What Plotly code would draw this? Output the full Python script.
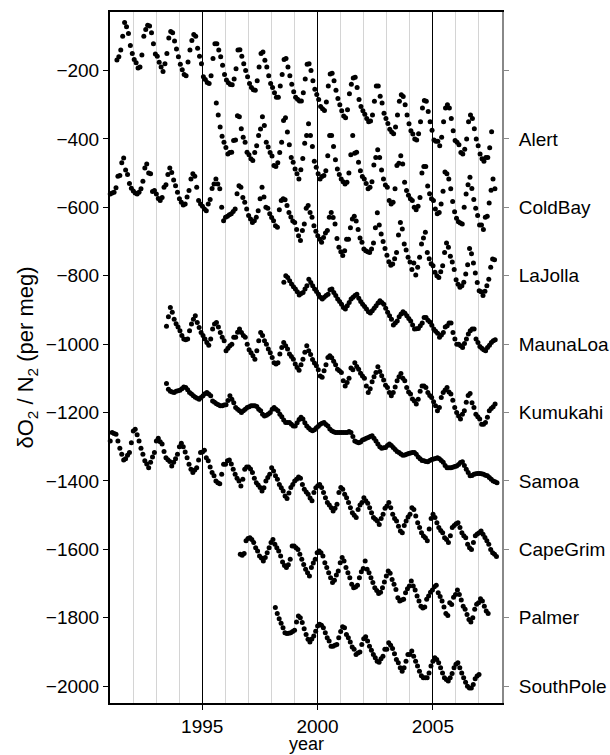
import plotly.graph_objects as go

# ---- data: monthly flask values (per meg), first sample time of each station ----
station_names = ["Alert", "ColdBay", "LaJolla", "MaunaLoa", "Kumukahi",
                 "Samoa", "CapeGrim", "Palmer", "SouthPole"]

alert_start = 1991.30
alert = [
    -169, -160, -140, -100, -60, -72, -92, -127, -150,
    -168, -177, -193, -190, -155, -100, -80, -68, -70, -90, -122, -152,
    -158, -176, -190, -203, -180, -150, -105, -86, -90, -114, -137, -160,
    -182, -198, -212, -215, -175, -140, -112, -95, -100, -135, -158, -180,
    -218, -226, -235, -238, -215, -165, -122, -122, -140, -160, -185, -212,
    -228, -236, -241, -242, -225, -195, -140, -139, -158, -180, -200, -218,
    -238, -250, -256, -258, -230, -190, -150, -146, -170, -190, -215, -238,
    -250, -265, -278, -278, -245, -212, -168, -165, -190, -215, -240, -262,
    -278, -284, -289, -289, -265, -225, -182, -180, -200, -230, -255, -270,
    -285, -305, -312, -317, -292, -245, -210, -208, -230, -258, -282, -300,
    -318, -333, -338, -315, -268, -240, -222, -220, -250, -285, -305, -318,
    -328, -340, -350, -348, -330, -290, -245, -245, -275, -295, -325, -340,
    -355, -372, -380, -385, -365, -330, -290, -271, -276, -300, -330, -356,
    -376, -386, -400, -403, -385, -350, -310, -288, -290, -320, -350, -375,
    -403, -407, -407, -420, -395, -350, -310, -300, -310, -340, -376, -405,
    -410, -417, -440, -444, -430, -400, -350, -330, -340, -370, -400, -420,
    -444, -458, -465, -454, -454, -426, -379,
]

coldbay_start = 1995.61
coldbay = [
    -295, -330, -365, -392, -410,
    -425, -444, -440, -439, -405, -403, -332, -335, -370, -395, -410, -439,
    -446, -458, -463, -440, -420, -390, -371, -335, -361, -410, -424, -440,
    -450, -478, -481, -470, -440, -410, -346, -338, -380, -417, -454, -468,
    -488, -502, -517, -490, -457, -413, -390, -356, -390, -422, -465, -483,
    -502, -517, -510, -507, -493, -449, -390, -390, -422, -461, -488, -504,
    -517, -525, -532, -527, -500, -446, -390, -442, -439, -468, -493, -510,
    -517, -530, -546, -541, -525, -476, -454, -432, -454, -491, -517, -535,
    -541, -580, -590, -585, -546, -478, -471, -449, -473, -527, -551, -565,
    -575, -580, -600, -607, -597, -571, -500, -481, -481, -538, -560, -575,
    -580, -605, -619, -615, -590, -553, -497, -502, -517, -546, -583, -613,
    -632, -642, -646, -649, -600, -561, -534, -512, -545, -577, -603, -624,
    -652, -652, -665, -629, -626, -587, -550, -517, -546,
]

lajolla_start = 1991.01
lajolla = [
    -561, -558, -556, -543, -509, -507, -470, -456, -491, -504, -530, -544,
    -552, -558, -561, -556, -546, -524, -485, -473, -500, -502, -554, -551,
    -561, -574, -580, -571, -541, -534, -504, -485, -498, -520, -537, -556,
    -575, -585, -593, -590, -570, -551, -517, -502, -509, -541, -580, -590,
    -597, -605, -610, -590, -577, -545, -532, -517, -532, -546, -600, -639,
    -629, -626, -622, -619, -612, -605, -560, -537, -541, -571, -585, -605,
    -624, -634, -644, -639, -629, -610, -575, -541, -570, -600, -603, -619,
    -630, -639, -654, -658, -607, -580, -575, -578, -595, -615, -628, -640,
    -644, -665, -683, -697, -668, -649, -603, -595, -615, -629, -654, -670,
    -683, -693, -702, -688, -675, -668, -629, -615, -630, -649, -691, -717,
    -730, -741, -727, -693, -693, -660, -634, -626, -640, -665, -690, -702,
    -722, -727, -730, -732, -722, -704, -660, -616, -652, -678, -700, -720,
    -740, -759, -769, -766, -750, -732, -681, -644, -663, -707, -725, -746,
    -760, -782, -763, -798, -775, -746, -707, -690, -673, -732, -750, -765,
    -771, -790, -800, -805, -788, -771, -732, -704, -717, -743, -760, -782,
    -812, -825, -834, -829, -819, -795, -768, -720, -736, -763, -792, -820,
    -844, -847, -858, -845, -829, -810, -775, -751, -753,
]

maunaloa_start = 1998.54
maunaloa = [
    -819, -800, -805, -815, -824, -832,
    -839, -847, -856, -852, -849, -839, -829, -810, -820, -829, -839, -846,
    -854, -863, -868, -863, -858, -854, -841, -839, -849, -858, -868, -875,
    -883, -893, -897, -888, -878, -868, -863, -858, -854, -866, -875, -883,
    -890, -897, -905, -909, -902, -895, -888, -880, -873, -878, -883, -895,
    -907, -917, -927, -944, -938, -932, -920, -912, -905, -910, -917, -925,
    -932, -944, -956, -955, -954, -946, -938, -922, -922, -930, -935, -945,
    -956, -962, -968, -980, -973, -966, -950, -946, -938, -938, -966, -985,
    -1000, -1000, -1005, -1010, -998, -985, -970, -961, -956, -956, -985, -995,
    -1007, -1012, -1016, -1019, -1010, -1003, -995, -990, -987,
]

kumukahi_start = 1993.45
kumukahi = [
    -948, -920, -893, -907, -927, -940, -950,
    -961, -975, -985, -987, -985, -961, -941, -927, -917, -937, -951, -966,
    -975, -985, -995, -1003, -985, -956, -941, -937, -950, -966, -980, -990,
    -1019, -1012, -1005, -1000, -980, -980, -965, -956, -966, -975, -980, -1000,
    -1016, -1025, -1034, -1044, -1019, -990, -966, -975, -990, -1000, -1014, -1025,
    -1039, -1054, -1058, -1054, -1029, -1010, -995, -1005, -1014, -1029, -1036, -1044,
    -1058, -1068, -1076, -1060, -1044, -1024, -1005, -1019, -1030, -1045, -1055, -1063,
    -1075, -1093, -1097, -1078, -1060, -1039, -1034, -1040, -1050, -1060, -1073, -1078,
    -1083, -1107, -1122, -1112, -1100, -1070, -1075, -1054, -1065, -1073, -1085, -1093,
    -1100, -1122, -1141, -1130, -1110, -1095, -1083, -1066, -1080, -1092, -1105, -1120,
    -1127, -1141, -1151, -1141, -1125, -1107, -1095, -1086, -1100, -1107, -1127, -1140,
    -1146, -1160, -1166, -1175, -1161, -1138, -1122, -1122, -1127, -1141, -1150, -1156,
    -1168, -1180, -1195, -1185, -1156, -1141, -1134, -1127, -1140, -1146, -1164, -1185,
    -1200, -1210, -1219, -1205, -1195, -1170, -1150, -1144, -1171, -1185, -1205, -1212,
    -1219, -1234, -1234, -1229, -1214, -1195, -1188, -1183, -1175,
]

samoa_start = 1993.45
samoa = [
    -1115, -1132, -1138, -1140, -1141, -1138, -1136,
    -1135, -1130, -1125, -1127, -1133, -1141, -1146, -1151, -1155, -1158, -1161, -1156,
    -1151, -1145, -1141, -1146, -1151, -1166, -1170, -1174, -1177, -1180, -1180, -1178,
    -1177, -1165, -1151, -1161, -1171, -1185, -1190, -1195, -1200, -1195, -1190, -1185,
    -1183, -1180, -1180, -1180, -1182, -1190, -1195, -1205, -1210, -1208, -1204, -1200,
    -1190, -1185, -1190, -1195, -1205, -1212, -1222, -1229, -1229, -1229, -1234, -1239,
    -1239, -1230, -1220, -1214, -1219, -1230, -1239, -1245, -1250, -1253, -1250, -1244,
    -1240, -1234, -1231, -1229, -1235, -1239, -1248, -1253, -1256, -1258, -1258, -1258,
    -1258, -1258, -1258, -1258, -1255, -1258, -1270, -1283, -1286, -1288, -1286, -1280,
    -1278, -1275, -1273, -1270, -1268, -1275, -1283, -1292, -1300, -1304, -1303, -1302,
    -1296, -1292, -1296, -1302, -1308, -1314, -1317, -1321, -1325, -1324, -1322, -1320,
    -1318, -1317, -1317, -1322, -1330, -1335, -1340, -1341, -1343, -1344, -1340, -1337,
    -1336, -1334, -1332, -1335, -1340, -1345, -1355, -1361, -1361, -1361, -1360, -1358,
    -1356, -1352, -1346, -1344, -1355, -1366, -1375, -1385, -1384, -1380, -1379, -1378,
    -1378, -1379, -1380, -1383, -1385, -1390, -1395, -1400, -1402, -1405,
]

capegrim_start = 1991.01
capegrim = [
    -1283, -1258, -1261, -1263, -1283, -1304, -1322, -1339, -1335, -1325, -1317, -1288,
    -1254, -1249, -1265, -1283, -1304, -1322, -1341, -1350, -1361, -1345, -1330, -1317,
    -1283, -1275, -1285, -1292, -1314, -1332, -1338, -1343, -1356, -1345, -1335, -1322,
    -1300, -1290, -1300, -1315, -1332, -1351, -1366, -1375, -1368, -1361, -1339, -1317,
    -1315, -1310, -1332, -1341, -1359, -1375, -1385, -1400, -1405, -1408, -1380, -1351,
    -1351, -1341, -1339, -1350, -1366, -1380, -1392, -1400, -1415, -1395, -1366, -1359,
    -1359, -1365, -1375, -1392, -1405, -1412, -1419, -1429, -1420, -1400, -1390, -1380,
    -1361, -1371, -1385, -1395, -1410, -1420, -1429, -1444, -1451, -1435, -1419, -1410,
    -1400, -1395, -1388, -1392, -1410, -1424, -1432, -1439, -1450, -1458, -1434, -1420,
    -1414, -1410, -1419, -1434, -1449, -1463, -1470, -1478, -1488, -1480, -1468, -1434,
    -1419, -1424, -1439, -1449, -1463, -1478, -1493, -1500, -1507, -1483, -1470, -1463,
    -1449, -1458, -1465, -1478, -1493, -1507, -1512, -1517, -1527, -1510, -1497, -1480,
    -1473, -1463, -1478, -1497, -1510, -1517, -1532, -1546, -1551, -1530, -1517, -1505,
    -1497, -1478, -1483, -1502, -1522, -1536, -1551, -1561, -1566, -1575, -1540, -1510,
    -1497, -1507, -1522, -1536, -1545, -1551, -1566, -1571, -1580, -1560, -1536, -1530,
    -1525, -1522, -1536, -1551, -1560, -1566, -1585, -1595, -1600, -1580, -1560, -1555,
    -1551, -1546, -1556, -1565, -1575, -1585, -1600, -1610, -1614, -1621,
]

palmer_start = 1996.65
palmer = [
    -1614, -1617, -1612, -1575,
    -1568, -1566, -1571, -1580, -1595, -1605, -1619, -1625, -1634, -1624, -1610, -1595,
    -1580, -1571, -1585, -1595, -1605, -1619, -1637, -1647, -1653, -1645, -1629, -1590,
    -1590, -1595, -1600, -1614, -1629, -1644, -1658, -1668, -1678, -1653, -1640, -1629,
    -1610, -1605, -1610, -1619, -1639, -1653, -1668, -1683, -1697, -1690, -1675, -1663,
    -1639, -1624, -1634, -1653, -1668, -1683, -1702, -1712, -1710, -1705, -1683, -1665,
    -1656, -1634, -1658, -1668, -1683, -1697, -1712, -1720, -1729, -1725, -1712, -1695,
    -1678, -1663, -1670, -1688, -1702, -1717, -1741, -1751, -1748, -1746, -1727, -1715,
    -1707, -1692, -1707, -1719, -1736, -1751, -1766, -1771, -1768, -1746, -1736, -1725,
    -1719, -1709, -1705, -1727, -1738, -1751, -1768, -1787, -1793, -1756, -1761, -1740,
    -1732, -1719, -1732, -1748, -1766, -1775, -1790, -1805, -1812, -1800, -1775, -1760,
    -1756, -1744, -1751, -1766, -1780, -1787,
]

southpole_start = 1998.17
southpole = [
    -1770, -1787, -1803, -1816, -1829, -1844, -1846, -1845, -1844, -1840,
    -1836, -1812, -1795, -1800, -1814, -1832, -1849, -1863, -1871, -1862, -1853, -1839,
    -1824, -1819, -1822, -1829, -1844, -1858, -1868, -1883, -1883, -1880, -1878, -1858,
    -1840, -1826, -1829, -1849, -1858, -1871, -1885, -1892, -1907, -1903, -1900, -1878,
    -1861, -1855, -1868, -1883, -1895, -1907, -1917, -1927, -1930, -1920, -1912, -1892,
    -1892, -1873, -1880, -1890, -1905, -1922, -1931, -1946, -1956, -1946, -1927, -1907,
    -1907, -1897, -1912, -1927, -1941, -1956, -1969, -1975, -1975, -1975, -1961, -1941,
    -1927, -1917, -1922, -1931, -1946, -1961, -1975, -1980, -1985, -1975, -1963, -1946,
    -1936, -1931, -1946, -1961, -1975, -1988, -2000, -2005, -2005, -1995, -1978, -1970,
    -1966,
]

series = [
    ("Alert", alert_start, alert),
    ("ColdBay", coldbay_start, coldbay),
    ("LaJolla", lajolla_start, lajolla),
    ("MaunaLoa", maunaloa_start, maunaloa),
    ("Kumukahi", kumukahi_start, kumukahi),
    ("Samoa", samoa_start, samoa),
    ("CapeGrim", capegrim_start, capegrim),
    ("Palmer", palmer_start, palmer),
    ("SouthPole", southpole_start, southpole),
]

label_positions = [-200, -400, -600, -800, -1000, -1200, -1400, -1600, -1800, -2000]
label_texts = [""] + station_names
left_ticks = [-200, -400, -600, -800, -1000, -1200, -1400, -1600, -1800, -2000]
left_tick_text = ["\u2212" + str(-v) for v in left_ticks]
year_ticks = [1995, 2000, 2005]
x_range = [1991.0, 2008.0]
y_range = [-2049, -29]

FONT = "Liberation Sans, Arial, Helvetica, sans-serif"

fig = go.Figure()
for name, t0, vals in series:
    xs = [t0 + i / 12.0 for i in range(len(vals))]
    fig.add_trace(go.Scatter(
        x=xs, y=vals, mode="markers", name=name, showlegend=False,
        marker=dict(color="black", size=5, line=dict(width=0)),
        cliponaxis=False, hoverinfo="x+y",
    ))

# invisible trace so the right axis is drawn
fig.add_trace(go.Scatter(x=[None], y=[None], yaxis="y2", showlegend=False,
                         mode="markers", hoverinfo="skip"))

fig.update_layout(
    width=610, height=755,
    margin=dict(l=110, r=108, t=12, b=52, autoexpand=False),
    paper_bgcolor="white", plot_bgcolor="white",
    font=dict(family=FONT, size=19, color="black"),
    xaxis=dict(
        range=x_range, tickvals=year_ticks, ticktext=[str(y) for y in year_ticks],
        ticks="outside", ticklen=5, tickcolor="black", tickwidth=1,
        ticklabelstandoff=0, automargin=False,
        showline=True, linecolor="black", linewidth=2, mirror=True,
        showgrid=True, gridcolor="black", gridwidth=1,
        minor=dict(tick0=1991, dtick=1, showgrid=True, gridcolor="#d4d4d4", gridwidth=1.3, ticks=""),
        zeroline=False,
    ),
    yaxis=dict(
        range=y_range, tickvals=left_ticks, ticktext=left_tick_text,
        ticks="outside", ticklen=5, tickcolor="black", tickwidth=1,
        showline=True, linecolor="black", linewidth=2, automargin=False,
        showgrid=False, zeroline=False,
        title=dict(text="\u03b4O<sub>2</sub> / N<sub>2</sub> (per meg)", standoff=6, font=dict(size=22)),
    ),
    yaxis2=dict(
        range=y_range, overlaying="y", side="right",
        tickvals=label_positions, ticktext=label_texts,
        ticks="outside", ticklen=5, tickcolor="#888888", tickwidth=1,
        ticklabelstandoff=6, automargin=False,
        showline=True, linecolor="#888888", linewidth=2,
        showgrid=False, zeroline=False,
    ),
    annotations=[dict(
        text="year", xref="paper", yref="paper", x=0.5, y=-0.0757,
        xanchor="center", yanchor="bottom", showarrow=False, borderpad=0,
        font=dict(family=FONT, size=18, color="black"),
    )],
)

fig.write_html("out.html", config={"displayModeBar": False},
               post_script="document.body.style.margin='0px';")
